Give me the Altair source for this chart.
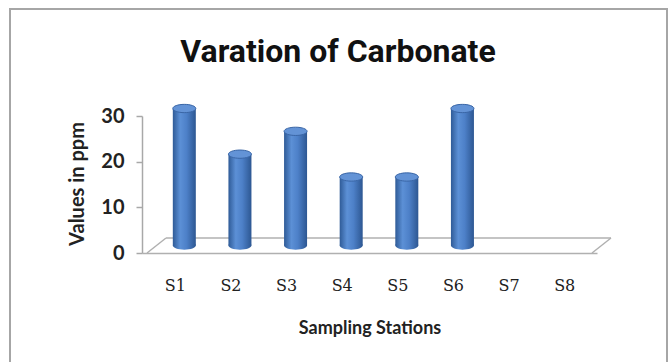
import altair as alt
import pandas as pd

# Carbonate values (ppm) at each sampling station
stations = ["S1", "S2", "S3", "S4", "S5", "S6", "S7", "S8"]
values = [30, 20, 25, 15, 15, 30, 0, 0]

y_ticks = [0, 10, 20, 30]

chart_title = "Varation of Carbonate"

df = pd.DataFrame({
    "station": stations,
    "pos": [i + 0.5 for i in range(len(stations))],
    "value": values,
})

# 3-D look: the floor has a depth; bars stand half-way into it
DEPTH_X, DEPTH_Y = 19, -15
MID_X, MID_Y = DEPTH_X / 2, DEPTH_Y / 2
BAR_W = 23

W, H = 455, 137
n = len(stations)

label_expr = "[" + ",".join(f"'{s}'" for s in stations) + "][floor(datum.value)]"

x_scale = alt.Scale(domain=[0, n], nice=False, zero=False)
y_scale = alt.Scale(domain=[0, 30], nice=False)

x_enc = alt.X(
    "pos:Q",
    scale=x_scale,
    axis=alt.Axis(
        values=[i + 0.5 for i in range(n)],
        labelExpr=label_expr,
        title="Sampling Stations",
        grid=False,
        ticks=False,
        tickSize=0,
        domain=True,
        domainColor="#b0b0b0",
        domainWidth=1.5,
        labelFont="DejaVu Serif",
        labelFontSize=16,
        labelColor="#222222",
        labelPadding=24,
        titleFont="Lato",
        titleFontSize=18,
        titleFontWeight="bold",
        titleColor="#222222",
        titleY=75,
        titleBaseline="middle",
        zindex=1,
    ),
)

y_enc_axis = alt.Axis(
    values=y_ticks,
    title="Values in ppm",
    grid=False,
    domainColor="#a8a8a8",
    domainWidth=1.5,
    tickColor="#a8a8a8",
    tickSize=6,
    tickWidth=1.5,
    labelFont="Lato",
    labelFontSize=20,
    labelFontWeight="bold",
    labelColor="#222222",
    labelPadding=12,
    titleFont="Lato",
    titleFontSize=20,
    titleFontWeight="bold",
    titleColor="#222222",
    titleX=-65,
    titleY=H / 2 - 1,
    titleBaseline="middle",
    zindex=1,
)

base = alt.Chart(df)
single = base.transform_filter("datum.pos < 1")

cyl_fill = alt.Gradient(
    gradient="linear",
    x1=0, x2=1, y1=0, y2=0,
    stops=[
        alt.GradientStop(color="#2f5b97", offset=0),
        alt.GradientStop(color="#5c90d6", offset=0.32),
        alt.GradientStop(color="#4d80c8", offset=0.6),
        alt.GradientStop(color="#2d5792", offset=1),
    ],
)

ellipse = "M-1,0 A1,0.36 0 1,1 1,0 A1,0.36 0 1,1 -1,0 Z"

# chart frame
frame = single.mark_rect(
    fillOpacity=0, stroke="#a6a6a6", strokeWidth=2
).encode(
    x=alt.value(-132), x2=alt.value(525),
    y=alt.value(-107), y2=alt.value(270),
)

title = single.mark_text(
    text=chart_title, font="Roboto", fontSize=32, fontWeight="bold",
    color="#111111", align="center", baseline="alphabetic",
).encode(x=alt.value(196), y=alt.value(-54))

axes = base.mark_point(opacity=0).encode(
    x=x_enc,
    y=alt.Y("value:Q", scale=y_scale, axis=y_enc_axis),
)

floor_style = dict(color="#b0b0b0", strokeWidth=1.5)

floor_back = single.mark_rule(
    xOffset=DEPTH_X, x2Offset=DEPTH_X, yOffset=DEPTH_Y, **floor_style
).encode(
    x=alt.datum(0, scale=x_scale), x2=alt.datum(n), y=alt.datum(0, scale=y_scale)
)

floor_left = single.mark_rule(
    x2Offset=DEPTH_X, y2Offset=DEPTH_Y, **floor_style
).encode(
    x=alt.datum(0), x2=alt.datum(0), y=alt.datum(0), y2=alt.datum(0)
)

floor_right = single.mark_rule(
    x2Offset=DEPTH_X, y2Offset=DEPTH_Y, **floor_style
).encode(
    x=alt.datum(n), x2=alt.datum(n), y=alt.datum(0), y2=alt.datum(0)
)

visible = base.transform_filter("datum.value > 0")

cyl_bottom = visible.mark_point(
    shape=ellipse, size=BAR_W ** 2, filled=True, fill=cyl_fill,
    strokeWidth=0, opacity=1, xOffset=MID_X, yOffset=MID_Y,
).encode(
    x=alt.X("pos:Q", scale=x_scale),
    y=alt.datum(0, scale=y_scale),
)

cyl_body = visible.mark_bar(
    size=BAR_W, fill=cyl_fill,
    xOffset=MID_X, yOffset=MID_Y, y2Offset=MID_Y,
).encode(
    x=alt.X("pos:Q", scale=x_scale),
    y=alt.Y("value:Q", scale=y_scale),
    y2=alt.datum(0),
)

cyl_top = visible.mark_point(
    shape=ellipse, size=BAR_W ** 2, filled=True, fill="#6393d6",
    stroke="#3a66a6", strokeWidth=1, opacity=1,
    xOffset=MID_X, yOffset=MID_Y,
).encode(
    x=alt.X("pos:Q", scale=x_scale),
    y=alt.Y("value:Q", scale=y_scale),
)

chart = alt.layer(
    axes, frame, title, floor_back, floor_left, floor_right,
    cyl_bottom, cyl_body, cyl_top,
).properties(
    width=W,
    height=H,
    autosize=alt.AutoSizeParams(type="none"),
    padding={"left": 142, "top": 116, "right": 72, "bottom": 109},
    background="white",
).configure_view(stroke=None)

chart.save("out.html", embed_options={"renderer": "svg", "actions": False})
